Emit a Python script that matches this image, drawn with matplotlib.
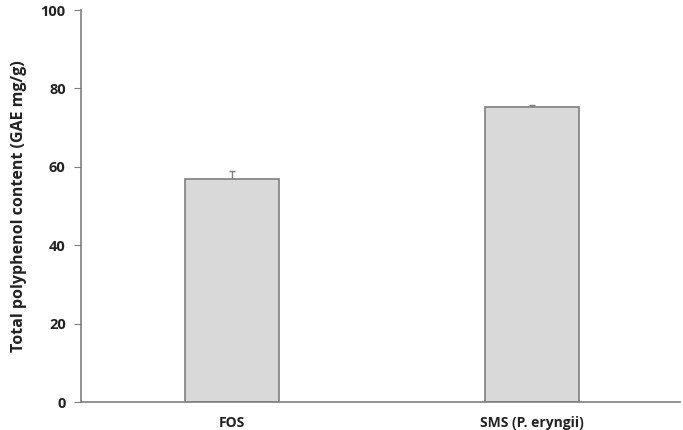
import matplotlib
matplotlib.use("Agg")
import matplotlib.pyplot as plt

categories = ["FOS", "SMS (P. eryngii)"]
values = [57.0, 75.3]
errors = [1.9, 0.4]
yticks = [0, 20, 40, 60, 80, 100]

plt.rcParams['font.family'] = ['Open Sans', 'DejaVu Sans']

fig = plt.figure(figsize=(6.83, 4.30), dpi=100)
ax = fig.add_axes([0.1186, 0.0651, 0.877, 0.9116])

x = list(range(len(categories)))
ax.bar(x, values, width=0.313, color="#d9d9d9", edgecolor="#7f7f7f", linewidth=1.2, zorder=2)
ax.errorbar(x, values, yerr=[[0]*len(errors), errors], fmt='none', ecolor="#7f7f7f",
            elinewidth=1, capsize=2, capthick=1, zorder=1)

ax.set_xlim(-0.503, 1.493)
ax.set_ylim(0, 100)
ax.set_yticks(yticks)
ax.set_xticks(x)
ax.set_xticklabels(categories, fontsize=10, fontweight='bold', color="#222222")
ax.tick_params(axis='x', length=0, pad=10)
ax.tick_params(axis='y', length=5, direction='out', color="#7f7f7f", labelsize=10.5, labelcolor="#222222", pad=6)
for lbl in ax.get_yticklabels():
    lbl.set_fontweight('bold')
ax.set_ylabel("Total polyphenol content (GAE mg/g)", fontsize=11.5, fontweight='bold', color="#222222", labelpad=10)

ax.spines['top'].set_visible(False)
ax.spines['right'].set_visible(False)
ax.spines['left'].set_color("#7f7f7f")
ax.spines['bottom'].set_color("#7f7f7f")
ax.spines['left'].set_linewidth(1.2)
ax.spines['bottom'].set_linewidth(1.2)

fig.savefig("out.png", dpi=100)
